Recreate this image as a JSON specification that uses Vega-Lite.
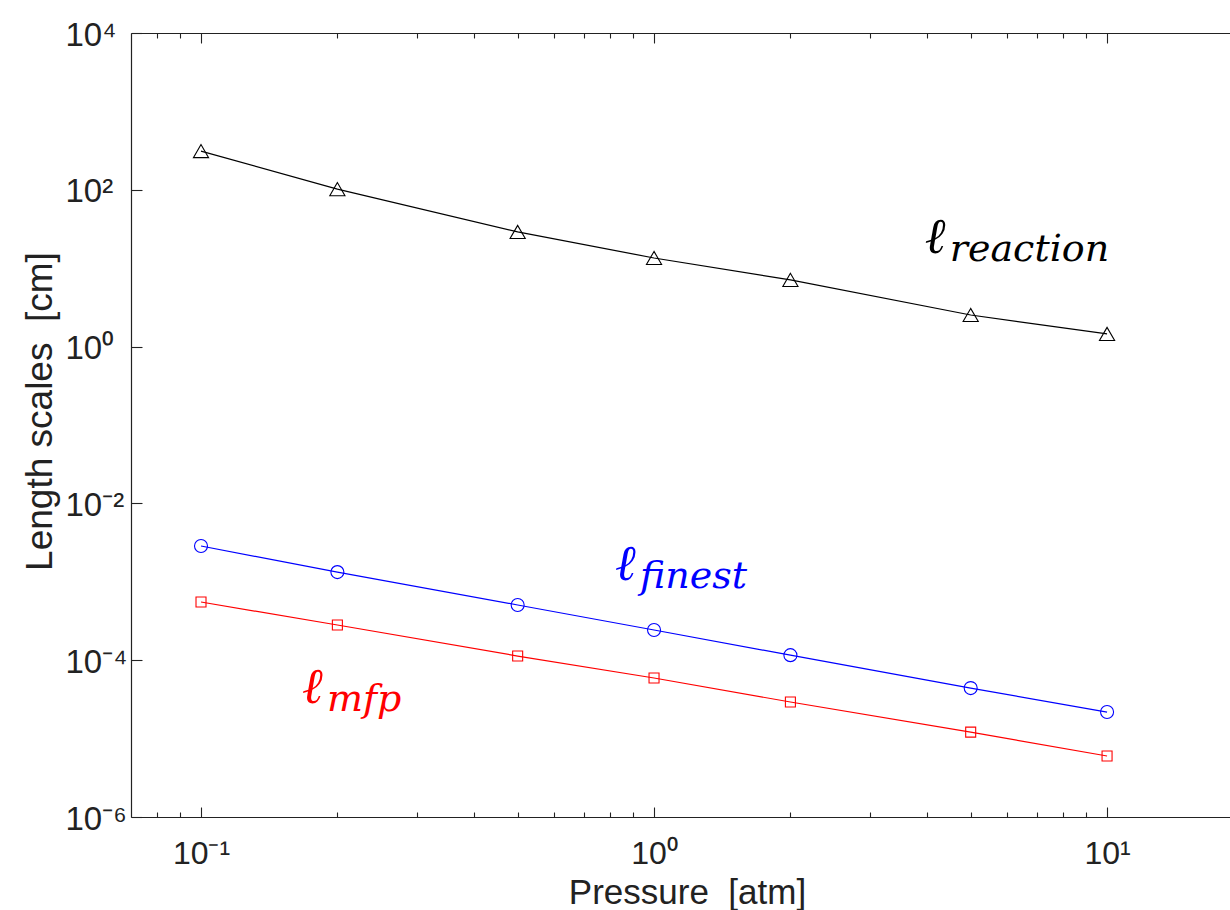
{
  "$schema": "https://vega.github.io/schema/vega-lite/v6.json",
  "width": 1099,
  "height": 784,
  "autosize": "none",
  "padding": {"left": 131, "top": 33, "right": 0, "bottom": 93},
  "background": "white",
  "config": {
    "view": {"stroke": null},
    "axis": {
      "grid": false,
      "labelFont": "Liberation Sans",
      "titleFont": "Liberation Sans",
      "labelColor": "#222222",
      "titleColor": "#222222",
      "domainColor": "#222222",
      "tickColor": "#222222",
      "domainWidth": 1.2,
      "tickWidth": 1.1,
      "labelFlush": false,
      "labelOverlap": false,
      "labelBound": false,
      "titleFontWeight": "normal"
    }
  },
  "datasets": {
    "curves": [
      {"series": "reaction", "p": 0.1, "L": 312},
      {"series": "reaction", "p": 0.2, "L": 102},
      {"series": "reaction", "p": 0.5, "L": 29},
      {"series": "reaction", "p": 1, "L": 13.5},
      {"series": "reaction", "p": 2, "L": 7.1},
      {"series": "reaction", "p": 5, "L": 2.53},
      {"series": "reaction", "p": 10, "L": 1.45},
      {"series": "finest", "p": 0.1, "L": 0.00286},
      {"series": "finest", "p": 0.2, "L": 0.00133},
      {"series": "finest", "p": 0.5, "L": 0.000506},
      {"series": "finest", "p": 1, "L": 0.000243},
      {"series": "finest", "p": 2, "L": 0.000116},
      {"series": "finest", "p": 5, "L": 0.0000441},
      {"series": "finest", "p": 10, "L": 0.0000218},
      {"series": "mfp", "p": 0.1, "L": 0.000552},
      {"series": "mfp", "p": 0.2, "L": 0.000281},
      {"series": "mfp", "p": 0.5, "L": 0.000113},
      {"series": "mfp", "p": 1, "L": 0.0000593},
      {"series": "mfp", "p": 2, "L": 0.0000293},
      {"series": "mfp", "p": 5, "L": 0.0000121},
      {"series": "mfp", "p": 10, "L": 0.000006}
    ],
    "labels": [
      {"series": "reaction", "p": 3.96, "L": 15.6, "sub": "reaction"},
      {"series": "finest", "p": 0.82, "L": 0.00105, "sub": "finest"},
      {"series": "mfp", "p": 0.167, "L": 0.0000284, "sub": "mfp"}
    ]
  },
  "layer": [
    {
      "data": {"name": "curves"},
      "mark": {"type": "line", "strokeWidth": 1.2},
      "encoding": {
        "x": {
          "field": "p", "type": "quantitative",
          "scale": {"type": "log", "domain": [0.07006, 18.68], "nice": false, "zero": false},
          "axis": {
            "orient": "bottom",
            "values": [0.1, 1, 10],
            "tickSize": -10,
            "labelPadding": 56,
            "labelBaseline": "alphabetic",
            "labelAlign": "center",
            "labelFontSize": 32,
            "labelExpr": "datum.value < 0.5 ? '10⁻¹' : datum.value < 5 ? '10⁰' : '10¹'",
            "title": "Pressure\u00a0 [atm]",
            "titleFontSize": 35,
            "titleX": 556,
            "titleY": 86,
            "titleBaseline": "alphabetic",
            "titleAlign": "center"
          }
        },
        "y": {
          "field": "L", "type": "quantitative",
          "scale": {"type": "log", "domain": [0.000001, 10000], "nice": false, "zero": false},
          "axis": {
            "orient": "left",
            "values": [0.000001, 0.0001, 0.01, 1, 100, 10000],
            "tickSize": -11,
            "labelPadding": 77,
            "labelAlign": "left",
            "labelBaseline": "alphabetic",
            "labelOffset": 12,
            "labelFontSize": 33,
            "labelExpr": "datum.value < 1e-5 ? '10⁻⁶' : datum.value < 1e-3 ? '10⁻⁴' : datum.value < 0.1 ? '10⁻²' : datum.value < 10 ? '10⁰' : datum.value < 1000 ? '10²' : '10⁴'",
            "title": "Length scales\u00a0 [cm]",
            "titleFontSize": 37,
            "titleAngle": -90,
            "titleX": -80,
            "titleY": 378,
            "titleBaseline": "alphabetic",
            "titleAlign": "center"
          }
        },
        "color": {
          "field": "series", "type": "nominal",
          "scale": {"domain": ["reaction", "finest", "mfp"], "range": ["#000000", "#0000ff", "#ff0000"]},
          "legend": null
        }
      }
    },
    {
      "data": {"name": "curves"},
      "mark": {"type": "point", "filled": false, "strokeWidth": 1.1, "opacity": 1},
      "encoding": {
        "x": {
          "field": "p", "type": "quantitative",
          "axis": {
            "orient": "bottom",
            "values": [0.08, 0.09, 0.2, 0.3, 0.4, 0.5, 0.6, 0.7, 0.8, 0.9, 2, 3, 4, 5, 6, 7, 8, 9],
            "tickSize": -5,
            "labels": false,
            "domain": false,
            "title": null
          }
        },
        "y": {"field": "L", "type": "quantitative", "axis": null},
        "color": {"field": "series", "type": "nominal", "legend": null},
        "shape": {
          "field": "series", "type": "nominal",
          "scale": {"domain": ["reaction", "finest", "mfp"], "range": ["triangle-up", "circle", "square"]},
          "legend": null
        },
        "size": {
          "field": "series", "type": "nominal",
          "scale": {"type": "ordinal", "domain": ["reaction", "finest", "mfp"], "range": [230, 169, 100]},
          "legend": null
        }
      }
    },
    {
      "data": {"name": "labels"},
      "mark": {"type": "text", "text": "ℓ", "font": "DejaVu Serif", "fontStyle": "italic", "fontSize": 50, "align": "left", "baseline": "alphabetic"},
      "encoding": {
        "x": {
          "field": "p", "type": "quantitative",
          "axis": {
            "orient": "top",
            "values": [0.1, 1, 10],
            "tickSize": -10,
            "labels": false,
            "title": null
          }
        },
        "y": {"field": "L", "type": "quantitative", "axis": null},
        "color": {"field": "series", "type": "nominal", "legend": null}
      }
    },
    {
      "data": {"name": "labels"},
      "mark": {"type": "text", "font": "DejaVu Serif", "fontStyle": "italic", "fontSize": 38, "align": "left", "baseline": "alphabetic", "dx": 25, "dy": 8},
      "encoding": {
        "x": {
          "field": "p", "type": "quantitative",
          "axis": {
            "orient": "top",
            "values": [0.08, 0.09, 0.2, 0.3, 0.4, 0.5, 0.6, 0.7, 0.8, 0.9, 2, 3, 4, 5, 6, 7, 8, 9],
            "tickSize": -5,
            "labels": false,
            "domain": false,
            "title": null
          }
        },
        "y": {"field": "L", "type": "quantitative", "axis": null},
        "text": {"field": "sub", "type": "nominal"},
        "color": {"field": "series", "type": "nominal", "legend": null}
      }
    }
  ],
  "resolve": {"axis": {"x": "independent", "y": "independent"}}
}
